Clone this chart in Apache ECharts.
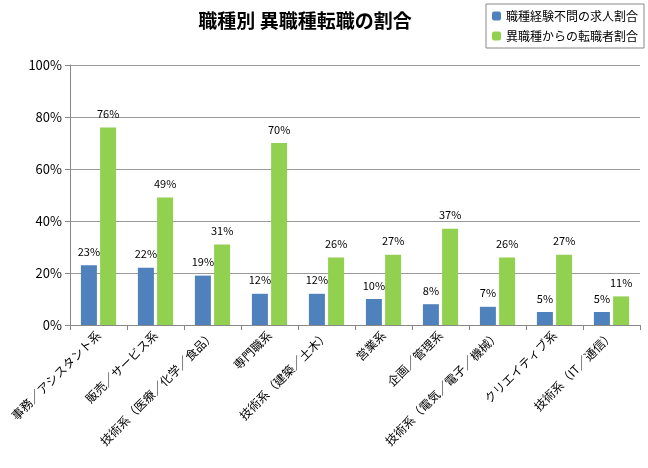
<!DOCTYPE html>
<html><head><meta charset="utf-8">
<script src="https://cdn.jsdelivr.net/npm/echarts@6/dist/echarts.min.js"></script>
<style>html,body{margin:0;padding:0;background:#fff}#c{width:648px;height:468px}</style>
</head><body><div id="c"></div>
<script>
const categories=['事務／アシスタント系','販売／サービス系','技術系（医療／化学／食品）','専門職系','技術系（建築／土木）','営業系','企画／管理系','技術系（電気／電子／機械）','クリエイティブ系','技術系（IT／通信）'];
const seriesA=[23,22,19,12,12,10,8,7,5,5];
const seriesB=[76,49,31,70,26,27,37,26,27,11];
const yTicks=[0,20,40,60,80,100];
const font='"Noto Sans CJK JP",sans-serif';
const chart=echarts.init(document.getElementById('c'));
chart.setOption({
  title:{text:'職種別 異職種転職の割合',left:300,top:6,textAlign:'center',textStyle:{fontFamily:font,fontSize:19,fontWeight:'bold',color:'#000'}},
  legend:{orient:'vertical',right:4,top:4,itemWidth:9,itemHeight:9,itemGap:8,borderColor:'#888',borderWidth:1,padding:[6,6],
    textStyle:{fontFamily:font,fontSize:12,color:'#000'},data:['職種経験不問の求人割合','異職種からの転職者割合']},
  grid:{left:70,right:8,top:65,bottom:143,containLabel:false},
  xAxis:{type:'category',data:categories,axisTick:{show:true,alignWithLabel:false,length:5,lineStyle:{color:'#888'}},
    axisLine:{lineStyle:{color:'#888'}},
    axisLabel:{rotate:45,interval:0,fontFamily:font,fontSize:12,color:'#000',margin:8}},
  yAxis:{type:'value',min:0,max:100,interval:20,
    axisLabel:{formatter:v=>v+'%',fontFamily:font,fontSize:13,color:'#000'},
    axisLine:{show:true,lineStyle:{color:'#888'}},axisTick:{show:true,lineStyle:{color:'#888'}},
    splitLine:{lineStyle:{color:'#999'}}},
  series:[
    {name:'職種経験不問の求人割合',type:'bar',data:seriesA,barWidth:16,barGap:'20%',itemStyle:{color:'#4F81BD'},
      label:{show:true,position:'top',distance:8,formatter:'{c}%',fontFamily:font,fontSize:11,color:'#000'}},
    {name:'異職種からの転職者割合',type:'bar',data:seriesB,barWidth:16,itemStyle:{color:'#92D050'},
      label:{show:true,position:'top',distance:8,formatter:'{c}%',fontFamily:font,fontSize:11,color:'#000'}}
  ]
});
</script></body></html>
